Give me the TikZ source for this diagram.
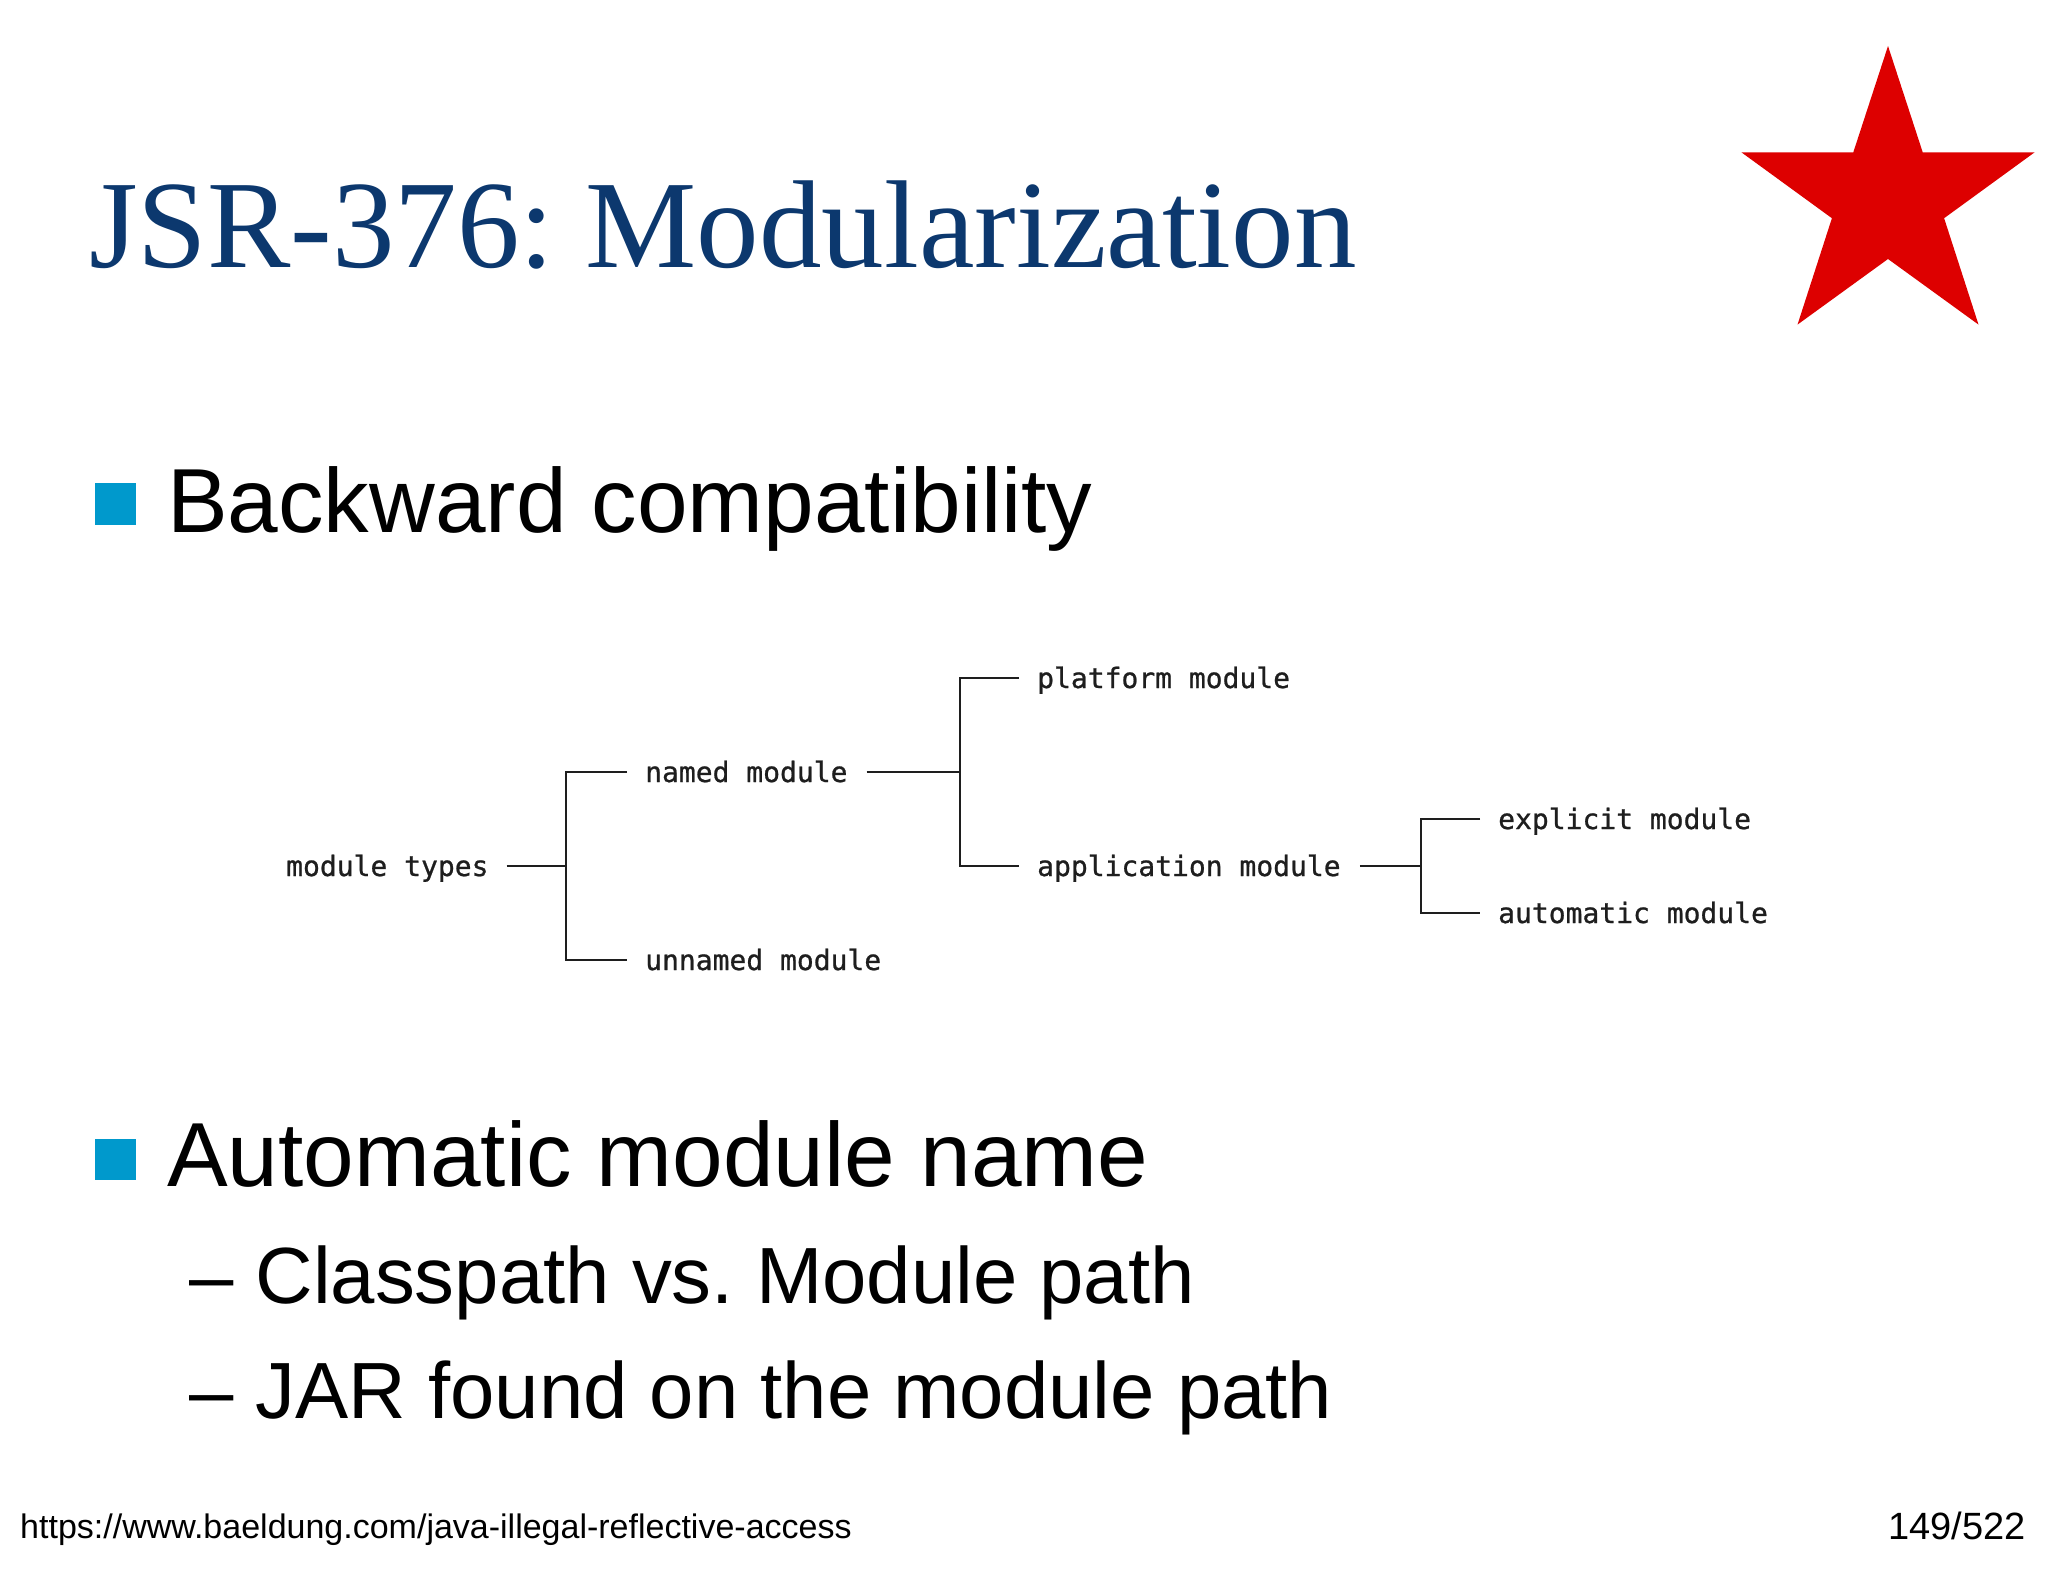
\documentclass[tikz,border=0pt]{standalone}
\usepackage{fontspec}
\setmainfont{Liberation Sans}
\newfontfamily\titlefont{Liberation Serif}
\newfontfamily\treefont[FakeBold=0.8]{DejaVu Sans Mono}
\definecolor{titleblue}{RGB}{12,56,110}
\definecolor{bulletblue}{RGB}{0,153,204}
\definecolor{starred}{RGB}{221,0,0}
\definecolor{treegray}{RGB}{30,30,30}
\frenchspacing
\begin{document}
\begin{tikzpicture}[x=1pt,y=-1pt,
  treenode/.style={anchor=west,inner sep=0pt,text height=24pt,text depth=4pt,
    font=\treefont\fontsize{28}{30}\selectfont,text=treegray},
  treeline/.style={draw=treegray,line width=2.6pt},
  lvlone/.style={anchor=base west,inner sep=0pt,font=\fontsize{91}{100}\selectfont},
  lvltwo/.style={anchor=base west,inner sep=0pt,font=\fontsize{79.7}{90}\selectfont},
  bulletsq/.style={fill=bulletblue,draw=none},
  foot/.style={inner sep=0pt,font=\fontsize{34}{40}\selectfont}]
\useasboundingbox (0,0) rectangle (2048,1582);
\fill[white] (0,0) rectangle (2048,1582);

% title
\node[anchor=base west,inner sep=0pt,text=titleblue,font=\titlefont\fontsize{125}{130}\selectfont] (title) at (89,267) {JSR-376: Modularization};

% star
\fill[starred] (1888,46) -- (1922.7,152.3) -- (2034.5,152.4) -- (1944.1,218.2) -- (1978.5,324.6)
  -- (1888,259) -- (1797.5,324.6) -- (1831.9,218.2) -- (1741.5,152.4) -- (1853.3,152.3) -- cycle;

% bullets
\fill[bulletsq] (95,483) rectangle (136,525);
\node[lvlone] (b1) at (167,532) {Backward compatibility};
\fill[bulletsq] (95,1139) rectangle (136,1180);
\node[lvlone] (b2) at (167,1186) {Automatic module name};
\node[lvltwo] (s1) at (189,1303) {– Classpath vs. Module path};
\node[lvltwo] (s2) at (189,1418) {– JAR found on the module path};

% footer
\node[foot,anchor=base west] (url) at (20,1538) {https://www.baeldung.com/java-illegal-reflective-access};
\node[foot,anchor=base east,font=\fontsize{38}{44}\selectfont] (page) at (2026,1539) {149/522};

% tree
\node[treenode] (types) at (286,866) {module types};
\node[treenode] (named) at (645,772) {named module};
\node[treenode] (unnamed) at (645,960) {unnamed module};
\node[treenode] (platform) at (1037,678) {platform module};
\node[treenode] (app) at (1037,866) {application module};
\node[treenode] (explicit) at (1498,819) {explicit module};
\node[treenode] (auto) at (1498,913) {automatic module};

\coordinate (j1) at (566,866);
\coordinate (j2) at (960,772);
\coordinate (j3) at (1421,866);

\draw[treeline] ([xshift=18pt]types.east) -- (j1);
\draw[treeline] ([xshift=-18pt]named.west) -- (named.west -| j1) -- (unnamed.west -| j1) -- ([xshift=-18pt]unnamed.west);
\draw[treeline] ([xshift=19pt]named.east) -- (j2);
\draw[treeline] ([xshift=-18pt]platform.west) -- (platform.west -| j2) -- (app.west -| j2) -- ([xshift=-18pt]app.west);
\draw[treeline] ([xshift=19pt]app.east) -- (j3);
\draw[treeline] ([xshift=-18pt]explicit.west) -- (explicit.west -| j3) -- (auto.west -| j3) -- ([xshift=-18pt]auto.west);
\end{tikzpicture}
\end{document}
